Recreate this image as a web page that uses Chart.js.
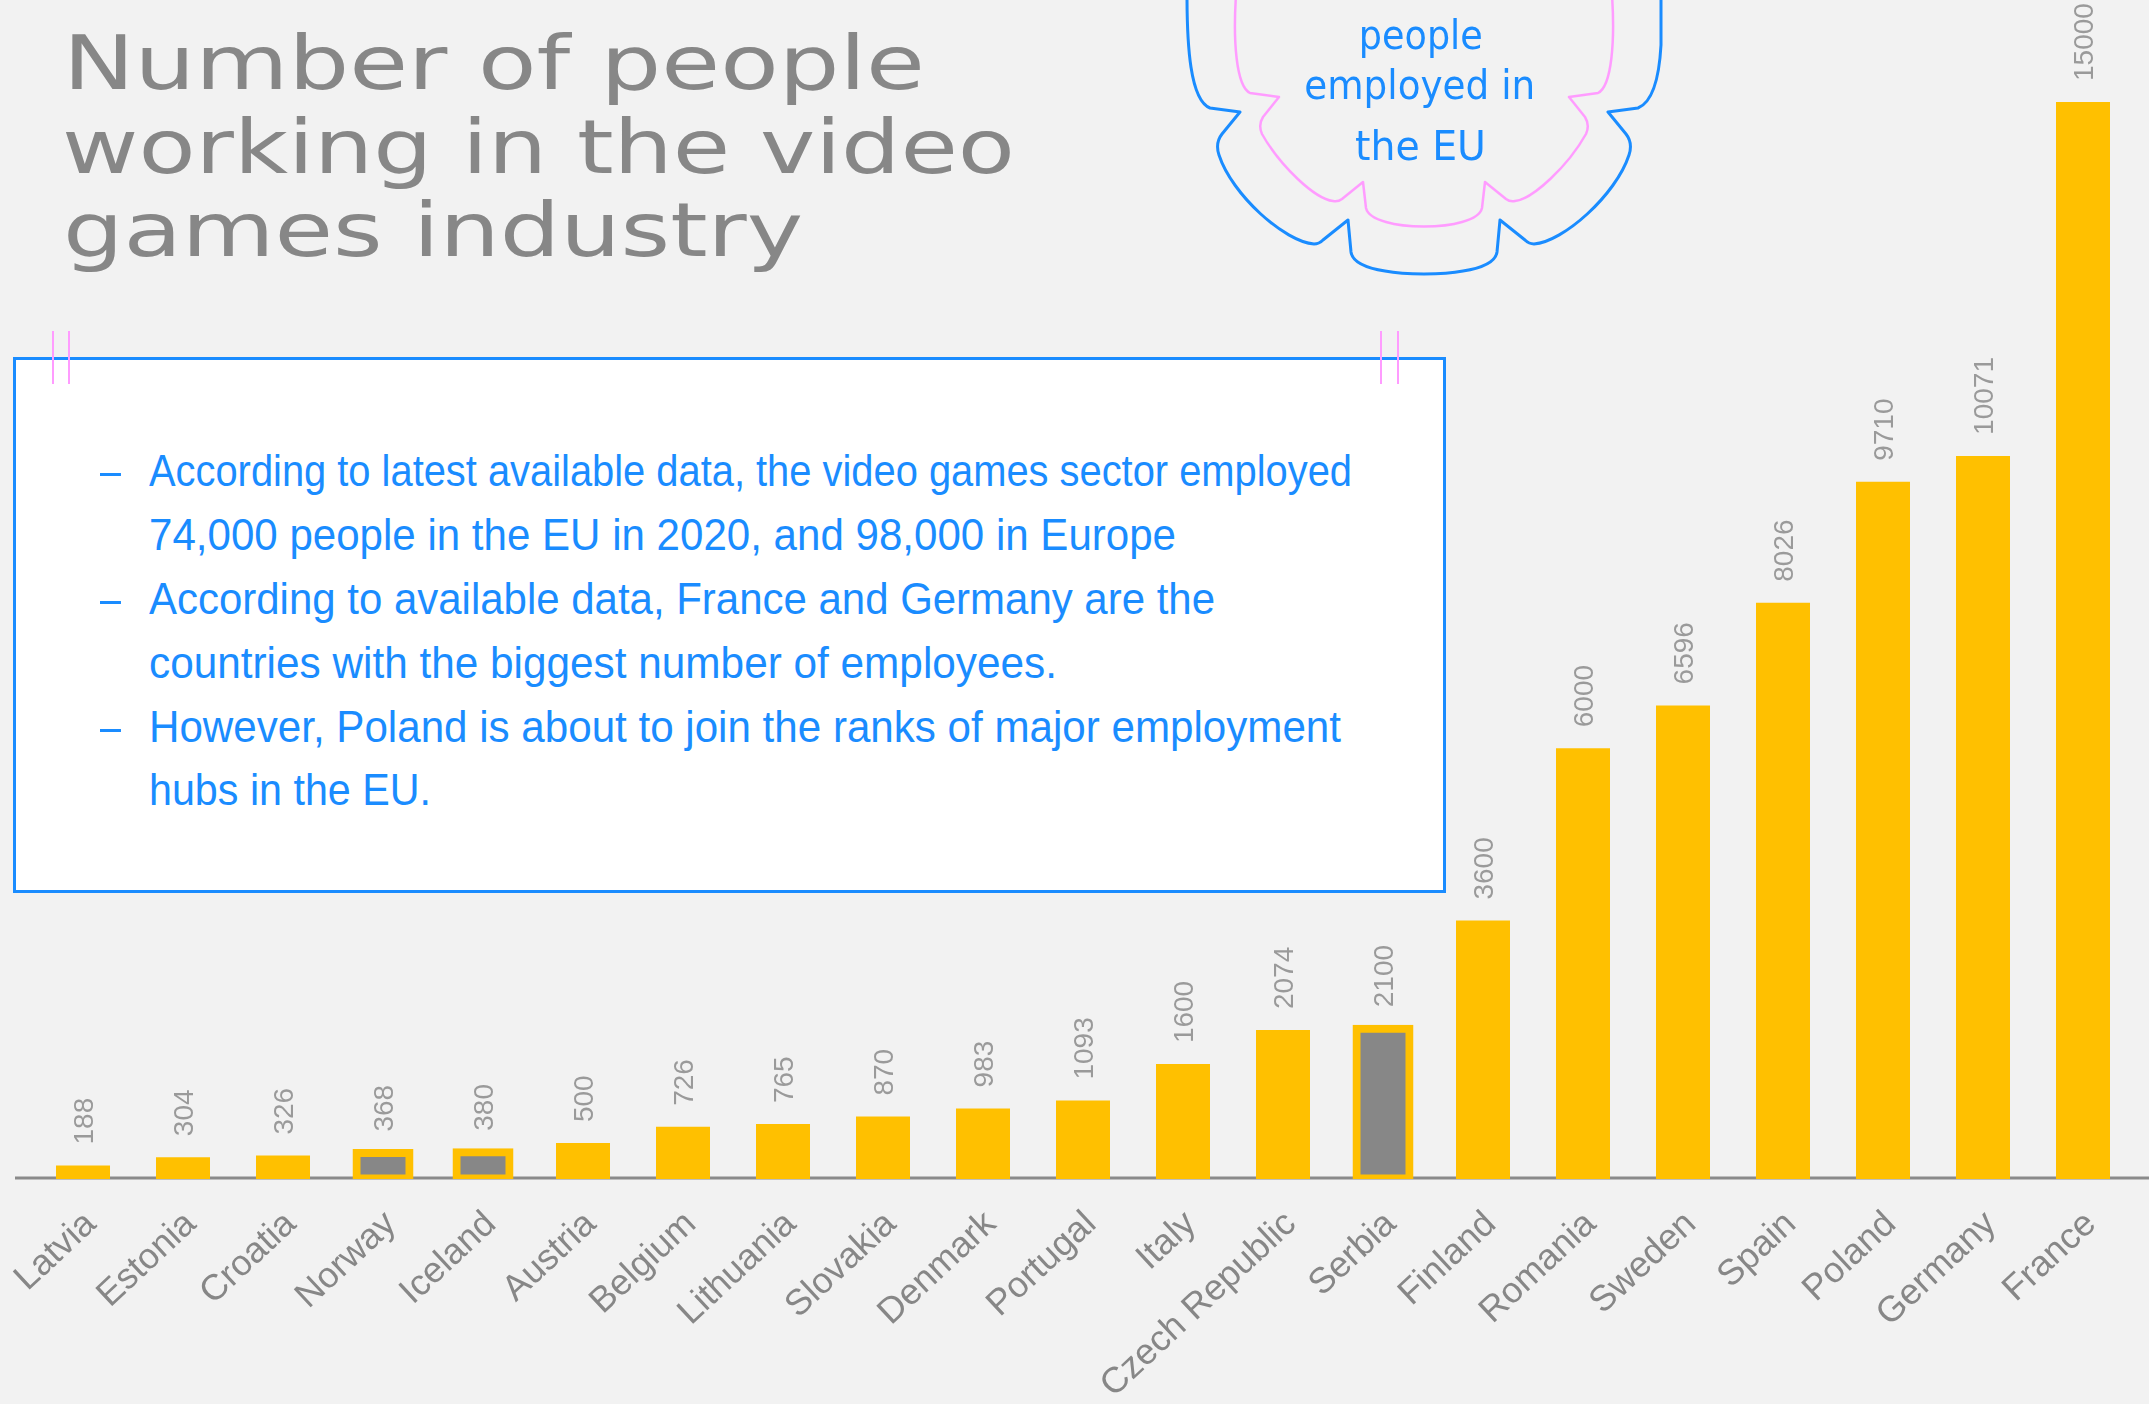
<!DOCTYPE html>
<html>
<head>
<meta charset="utf-8">
<title>Number of people working in the video games industry</title>
<script src="https://cdn.jsdelivr.net/npm/chart.js@4.4.1/dist/chart.umd.min.js"></script>
<style>
    html, body { margin: 0; padding: 0; background: #f2f2f2; overflow: hidden; }
    #page { position: relative; width: 2149px; height: 1404px; }
    #chart-canvas { position: absolute; left: 0; top: 0; }
    #badge { position: absolute; left: 0; top: 0; }
    #info-box {
        position: absolute; left: 13px; top: 357px; width: 1433px; height: 536px;
        box-sizing: border-box; border: 3px solid #1a8cff; background: #ffffff;
    }
    .pin { position: absolute; top: 331px; width: 2px; height: 53px; background: #ff9cff; }
    .txt { position: absolute; white-space: nowrap; }
</style>
</head>
<body>
<div id="page">
    <canvas id="chart-canvas" width="2149" height="1404"></canvas>
    <svg id="badge" width="2149" height="300">
        <path d="M1187,-5 C1187,45 1190,100 1210,108 L1240,112 L1222,134 Q1215,143 1219,155 C1232,195 1285,242 1314,244 Q1319,244 1323,240 L1348,220 L1351,252 Q1353,266 1385,271 C1405,275 1443,275 1463,271 Q1495,266 1497,252 L1500,220 L1525,240 Q1529,244 1534,244 C1563,242 1616,195 1629,155 Q1633,143 1626,134 L1608,112 L1638,108 Q1658,100 1661,45 L1661,-5"
              fill="none" stroke="#1a8cff" stroke-width="3" stroke-linejoin="round"/>
        <path d="M1236,-5 C1233,40 1236,86 1250,93 L1279,97 L1263,117 Q1258,125 1262,134 C1280,166 1315,199 1333,201 Q1338,202 1342,199 L1363,182 L1366,208 Q1368,217 1386,222 C1406,228 1442,228 1462,222 Q1480,217 1482,208 L1485,182 L1506,199 Q1510,202 1515,201 C1533,199 1568,166 1586,134 Q1590,125 1585,117 L1569,97 L1598,93 C1612,86 1615,40 1612,-5"
              fill="none" stroke="#ff9cff" stroke-width="2.5" stroke-linejoin="round"/>
    </svg>
    <div id="info-box"></div>
    <div class="pin" style="left:52px"></div>
    <div class="pin" style="left:68px"></div>
    <div class="pin" style="left:1380px"></div>
    <div class="pin" style="left:1397px"></div>
</div>
<script>
// employees in the video games sector, by country
const countries = ["Latvia", "Estonia", "Croatia", "Norway", "Iceland", "Austria", "Belgium", "Lithuania",
    "Slovakia", "Denmark", "Portugal", "Italy", "Czech Republic", "Serbia", "Finland", "Romania",
    "Sweden", "Spain", "Poland", "Germany", "France"];
const employees = [188, 304, 326, 368, 380, 500, 726, 765, 870, 983, 1093, 1600, 2074, 2100, 3600, 6000,
    6596, 8026, 9710, 10071, 15000];
// countries outside the EU get the grey framed bar
const non_eu = ["Norway", "Iceland", "Serbia"];

const title_lines = ["Number of people", "working in the video", "games industry"];
const badge_lines = ["people", "employed in", "the EU"];
const info_lines = [
    "According to latest available data, the video games sector employed",
    "74,000 people in the EU in 2020, and 98,000 in Europe",
    "According to available data, France and Germany are the",
    "countries with the biggest number of employees.",
    "However, Poland is about to join the ranks of major employment",
    "hubs in the EU."
];
const info_bullets = [0, 2, 4];

const page = document.getElementById("page");
const yellow = "#ffc000";
const grey = "#878787";
const blue = "#1a8cff";
const dejavu = '"DejaVu Sans", sans-serif';
const liberation = '"Liberation Sans", Arial, sans-serif';

// puts a line of text with its baseline at y and squeezes it to the given width
function place_text(str, x, baseline, size, family, color, width, align) {
    const el = document.createElement("div");
    el.className = "txt";
    el.textContent = str;
    el.style.font = `${size}px ${family}`;
    el.style.lineHeight = size + "px";
    el.style.color = color;
    el.style.top = (baseline - 0.846 * size) + "px";
    page.appendChild(el);
    const natural = el.getBoundingClientRect().width;
    if (align == "center") {
        el.style.left = (x - natural / 2) + "px";
        el.style.transformOrigin = "50% 0";
    }
    else {
        el.style.left = x + "px";
        el.style.transformOrigin = "0 0";
    }
    el.style.transform = `scaleX(${width / natural})`;
}

// x, baseline, width
const title_pos = [[63, 89, 862], [62, 173, 953], [63, 256, 740]];
const badge_pos = [[1421, 49, 124], [1420, 99, 231], [1420, 160, 131]];
const info_pos = [[149, 486, 1203], [149, 550, 1027], [149, 614, 1066], [149, 678, 908], [149, 742, 1192], [149, 805, 282]];

title_lines.forEach((line, i) => place_text(line, title_pos[i][0], title_pos[i][1], 74, dejavu, grey, title_pos[i][2]));
badge_lines.forEach((line, i) => place_text(line, badge_pos[i][0], badge_pos[i][1], 40, dejavu, blue, badge_pos[i][2], "center"));
info_lines.forEach((line, i) => place_text(line, info_pos[i][0], info_pos[i][1], 44, liberation, blue, info_pos[i][2]));
info_bullets.forEach(i => place_text("\u2013", 100, info_pos[i][1], 44, liberation, blue, 21));

const is_non_eu = i => non_eu.includes(countries[i]);

// grey axis line running under the bars, across the page
const baseline_plugin = {
    id: "baseline",
    beforeDatasetsDraw(chart) {
        const ctx = chart.ctx;
        const y = chart.scales.y.getPixelForValue(0) - 1;
        ctx.save();
        ctx.strokeStyle = "#8a8a8a";
        ctx.lineWidth = 3;
        ctx.beginPath();
        ctx.moveTo(15, y);
        ctx.lineTo(chart.width, y);
        ctx.stroke();
        ctx.restore();
    }
};

// vertical value above each bar, digits centred on the bar
const value_plugin = {
    id: "values",
    afterDatasetsDraw(chart) {
        const ctx = chart.ctx;
        const meta = chart.getDatasetMeta(0);
        const size = 28;
        ctx.save();
        ctx.font = `${size}px ${liberation}`;
        ctx.fillStyle = "#9a9a9a";
        ctx.textAlign = "left";
        ctx.textBaseline = "alphabetic";
        meta.data.forEach((bar, i) => {
            ctx.save();
            ctx.translate(bar.x, bar.y - 21);
            ctx.rotate(-Math.PI / 2);
            ctx.fillText(String(employees[i]), 0, size * 0.358);
            ctx.restore();
        });
        ctx.restore();
    }
};

const employees_chart = new Chart(document.getElementById("chart-canvas"), {
    type: "bar",
    data: {
        labels: countries,
        datasets: [{
            data: employees,
            backgroundColor: ctx => is_non_eu(ctx.dataIndex) ? grey : yellow,
            borderColor: yellow,
            borderWidth: ctx => is_non_eu(ctx.dataIndex) ? 8 : 0,
            borderSkipped: false,
            inflateAmount: ctx => is_non_eu(ctx.dataIndex) ? 3.5 : 0,
            barPercentage: 0.54,
            categoryPercentage: 1
        }]
    },
    options: {
        responsive: false,
        devicePixelRatio: 1,
        animation: false,
        layout: { padding: { left: 33, right: 16, top: 102, bottom: 0 } },
        plugins: {
            legend: { display: false },
            tooltip: { enabled: false }
        },
        scales: {
            x: {
                grid: { display: false, drawTicks: false },
                border: { display: false },
                ticks: {
                    autoSkip: false,
                    minRotation: 43,
                    maxRotation: 43,
                    padding: 24,
                    labelOffset: 8,
                    color: grey,
                    font: { family: liberation, size: 36 }
                },
                afterFit: scale => {
                    scale.height = 225;
                    scale.paddingLeft = 0;
                    scale.paddingRight = 0;
                }
            },
            y: { display: false, min: 0, max: 15000 }
        }
    },
    plugins: [baseline_plugin, value_plugin]
});
</script>
</body>
</html>
